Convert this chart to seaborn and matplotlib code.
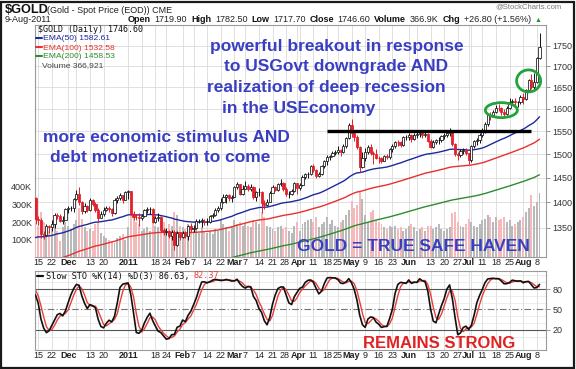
import numpy as np
import pandas as pd
import matplotlib
matplotlib.use("Agg")
import matplotlib.pyplot as plt
import matplotlib.transforms as mtransforms
import seaborn as sns
from matplotlib.patches import Ellipse, Rectangle
from matplotlib.ticker import NullLocator

sns.set_theme(style="white")
plt.rcParams['font.family'] = ['Liberation Sans', 'DejaVu Sans']

# ---------------- data ----------------
start_date, end_date = '2010-11-12', '2011-08-09'
holidays = ['2010-11-25', '2010-12-24', '2011-01-17', '2011-02-21',
            '2011-04-22', '2011-05-30', '2011-07-04']

# history before the first visible bar (only feeds the stochastic)
hist_close = [1332, 1345, 1326, 1327, 1339, 1340, 1325, 1346, 1357, 1352, 1357, 1349, 1393, 1397, 1411, 1395, 1404, 1408]
hist_high = [1373, 1348, 1349, 1333, 1348, 1345, 1343, 1348, 1362, 1366, 1360, 1360, 1395, 1398, 1412, 1424, 1406, 1410]
hist_low = [1328, 1330, 1322, 1316, 1325, 1328, 1318, 1322, 1343, 1350, 1349, 1335, 1349, 1374, 1393, 1390, 1382, 1395]

close = [1368,
         1366, 1338, 1336, 1353, 1352, 1358, 1376, 1374, 1363,
         1366, 1386, 1388, 1389, 1406, 1416, 1400, 1383, 1393, 1385,
         1404, 1397, 1385, 1370, 1378, 1384, 1388, 1387, 1379,
         1405, 1409, 1414, 1405, 1421, 1422, 1378, 1372, 1371, 1369,
         1374, 1384, 1386, 1387, 1361, 1369, 1371, 1346, 1343,
         1345, 1334, 1342, 1318, 1340, 1332, 1340, 1334, 1353, 1348,
         1350, 1363, 1364, 1364, 1361, 1362, 1374, 1375, 1384, 1388,
         1401, 1410, 1414, 1408, 1410, 1432, 1437, 1416, 1428,
         1434, 1428, 1432, 1410, 1420, 1421, 1398, 1395, 1400, 1419,
         1432, 1426, 1437, 1439, 1428, 1416, 1416, 1423, 1439, 1429,
         1436, 1451, 1457, 1458, 1474, 1466, 1453, 1458, 1474, 1486,
         1494, 1495, 1503, 1504, 1509, 1505, 1517, 1535, 1563,
         1545, 1536, 1515, 1473, 1491, 1504, 1515, 1502, 1501, 1492,
         1491, 1485, 1496, 1493, 1510, 1517, 1527, 1526, 1519, 1536,
         1536, 1541, 1532, 1542, 1544, 1546, 1541, 1543, 1529,
         1516, 1526, 1530, 1530, 1539, 1541, 1546, 1553, 1521, 1500,
         1498, 1506, 1509, 1502, 1487, 1517, 1529, 1530, 1542,
         1550, 1566, 1587, 1585, 1593, 1602, 1601, 1592, 1588, 1602,
         1615, 1617, 1615, 1615, 1628, 1623, 1643, 1666, 1650, 1663,
         1719.8, 1746.6]
high = [1411,
        1374, 1370, 1345, 1358, 1356, 1365, 1380, 1380, 1378,
        1374, 1389, 1392, 1393, 1409, 1425, 1431, 1402, 1398, 1395,
        1408, 1406, 1400, 1388, 1382, 1391, 1392, 1392, 1389,
        1408, 1413, 1418, 1414, 1424, 1425, 1424, 1383, 1378, 1380,
        1377, 1387, 1391, 1390, 1388, 1374, 1379, 1372, 1350,
        1350, 1346, 1346, 1346, 1344, 1342, 1345, 1344, 1356, 1360,
        1355, 1368, 1368, 1369, 1367, 1369, 1376, 1379, 1389, 1392,
        1408, 1416, 1416, 1417, 1415, 1434, 1441, 1438, 1436,
        1444, 1437, 1437, 1433, 1424, 1430, 1424, 1405, 1406, 1422,
        1436, 1434, 1440, 1447, 1442, 1432, 1422, 1427, 1441, 1440,
        1440, 1455, 1461, 1463, 1477, 1478, 1469, 1462, 1477, 1488,
        1497, 1498, 1506, 1508, 1518, 1511, 1522, 1538, 1568,
        1577, 1550, 1541, 1518, 1504, 1512, 1519, 1521, 1506, 1510,
        1496, 1494, 1498, 1500, 1513, 1522, 1529, 1530, 1529, 1539,
        1542, 1545, 1543, 1545, 1548, 1549, 1547, 1549, 1546,
        1532, 1530, 1532, 1536, 1542, 1545, 1550, 1557, 1553, 1523,
        1505, 1510, 1513, 1513, 1503, 1520, 1531, 1535, 1545,
        1556, 1570, 1590, 1593, 1597, 1608, 1610, 1604, 1600, 1606,
        1624, 1622, 1624, 1619, 1632, 1636, 1647, 1669, 1681, 1683,
        1722, 1782.5]
low = [1357,
       1356, 1330, 1329, 1336, 1340, 1345, 1350, 1367, 1361,
       1358, 1366, 1380, 1382, 1381, 1405, 1395, 1377, 1380, 1381,
       1383, 1393, 1381, 1363, 1369, 1373, 1382, 1381, 1374,
       1377, 1399, 1405, 1398, 1404, 1407, 1375, 1365, 1365, 1354,
       1365, 1371, 1379, 1378, 1359, 1360, 1364, 1343, 1337,
       1337, 1330, 1327, 1309, 1316, 1326, 1330, 1331, 1327, 1343,
       1342, 1348, 1359, 1352, 1355, 1356, 1359, 1370, 1373, 1381,
       1384, 1399, 1399, 1403, 1400, 1410, 1428, 1414, 1414,
       1427, 1424, 1424, 1406, 1403, 1413, 1380, 1387, 1392, 1400,
       1418, 1422, 1424, 1433, 1424, 1412, 1408, 1414, 1421, 1417,
       1425, 1433, 1448, 1449, 1456, 1462, 1450, 1452, 1456, 1470,
       1476, 1488, 1493, 1499, 1501, 1495, 1503, 1514, 1532,
       1537, 1528, 1510, 1462, 1470, 1486, 1500, 1497, 1478, 1489,
       1480, 1480, 1485, 1489, 1489, 1505, 1514, 1518, 1515, 1517,
       1530, 1530, 1527, 1530, 1535, 1537, 1535, 1536, 1526,
       1513, 1514, 1521, 1522, 1526, 1533, 1538, 1540, 1518, 1496,
       1488, 1493, 1500, 1497, 1478, 1483, 1513, 1520, 1524,
       1538, 1546, 1562, 1575, 1581, 1590, 1596, 1585, 1584, 1586,
       1600, 1610, 1609, 1604, 1610, 1612, 1620, 1641, 1645, 1643,
       1660, 1717.7]
last_open = 1719.90
volume_k = [330,
            180, 260, 200, 170, 150, 160, 190, 150, 90,
            170, 200, 180, 160, 190, 210, 280, 220, 170, 150,
            160, 150, 190, 200, 140, 120, 110, 100, 90,
            80, 110, 120, 130, 100, 170, 290, 250, 200, 190,
            150, 160, 170, 150, 230, 180, 170, 240, 200,
            160, 190, 180, 260, 240, 180, 170, 160, 190, 180,
            150, 160, 140, 170, 150, 140, 150, 130, 160, 150,
            210, 190, 170, 150, 180, 210, 190, 200, 180,
            190, 180, 170, 210, 200, 190, 260, 230, 180, 170,
            160, 150, 170, 180, 160, 170, 150, 140, 180, 200,
            150, 190, 200, 210, 220, 200, 230, 170, 190, 200,
            230, 190, 210, 180, 170, 200, 210, 240, 270,
            320, 280, 300, 380, 330, 240, 200, 260, 270, 210,
            200, 190, 170, 160, 180, 170, 180, 160, 170, 150,
            160, 180, 190, 170, 150, 160, 170, 150, 180,
            180, 160, 170, 190, 160, 150, 160, 170, 250, 260,
            200, 180, 170, 190, 220, 200, 180, 170, 190,
            210, 220, 240, 230, 200, 230, 210, 220, 230, 200,
            210, 180, 190, 200, 210, 230, 260, 280, 355, 290,
            315, 367]

ema_periods = [50, 100, 200]
ema_seeds = [1330, 1278, 1207]
ema_colors = ['#1c2a9c', '#e8302c', '#2e8b2e']
ema_labels = ['EMA(50) 1582.61', 'EMA(100) 1532.58', 'EMA(200) 1458.53']

price_ticks = [1350, 1400, 1450, 1500, 1550, 1600, 1650, 1700, 1750]
vol_ticks = [100000, 200000, 300000, 400000]
vol_tick_labels = ['100K', '200K', '300K', '400K']
sto_ticks = [20, 50, 80]

tick_dates = ['2010-11-15', '2010-11-22', '2010-12-01', '2010-12-13', '2010-12-20',
              '2011-01-03', '2011-01-18', '2011-01-24', '2011-02-01', '2011-02-07',
              '2011-02-14', '2011-02-22', '2011-03-01', '2011-03-07', '2011-03-14',
              '2011-03-21', '2011-03-28', '2011-04-01', '2011-04-11', '2011-04-18',
              '2011-04-25', '2011-05-02', '2011-05-09', '2011-05-16', '2011-05-23',
              '2011-06-01', '2011-06-13', '2011-06-20', '2011-06-27', '2011-07-01',
              '2011-07-11', '2011-07-18', '2011-07-25', '2011-08-01', '2011-08-08']
tick_labels = ['15', '22', 'Dec', '13', '20', '2011', '18', '24', 'Feb', '7', '14', '22',
               'Mar', '7', '14', '21', '28', 'Apr', '11', '18', '25', 'May', '9', '16', '23',
               'Jun', '13', '20', '27', 'Jul', '11', '18', '25', 'Aug', '8']
label_nudge_px = {16: -1.8, 17: 1.8}
extra_grid_dates = ['2010-12-06', '2011-01-10', '2011-04-04', '2011-06-06', '2011-07-05']

resistance_level = 1550
resistance_span = ['2011-04-18', '2011-08-04']
circles = [('2011-07-20', 1597, 32, 15), ('2011-08-03', 1665, 24, 22)]

# ---------------- derived ----------------
hol = set(holidays)
dates = [d for d in pd.bdate_range(start_date, end_date) if d.strftime('%Y-%m-%d') not in hol]
n = len(dates)
assert n == len(close) == len(high) == len(low) == len(volume_k)
pos = {d.strftime('%Y-%m-%d'): i for i, d in enumerate(dates)}
idx = np.arange(n)

c = np.array(close, float)
prev = np.concatenate([[hist_close[-1]], c[:-1]])
o = prev.copy()
o[-1] = last_open
h = np.maximum(np.array(high, float), np.maximum(o, c))
l = np.minimum(np.array(low, float), np.minimum(o, c))
down = c < prev

RED = '#e0202a'
W, H = 576, 369
def fx(px):
    return px / W
def fy(py):
    return 1 - py / H

def ema(vals, period, seed):
    k = 2.0 / (period + 1)
    e = seed
    out = []
    for v in vals:
        e = e + k * (v - e)
        out.append(e)
    return np.array(out)

allc = pd.Series(hist_close + list(c))
allh = pd.Series(hist_high + list(h))
alll = pd.Series(hist_low + list(l))
hh = allh.rolling(14).max()
ll = alll.rolling(14).min()
fast_k = 100 * (allc - ll) / (hh - ll)
slow_k = fast_k.rolling(3).mean()
slow_d = slow_k.rolling(3).mean()
slow_k = slow_k.values[-n:]
slow_d = slow_d.values[-n:]

# ---------------- figure ----------------
fig = plt.figure(figsize=(5.76, 3.69), dpi=100)
fig.patch.set_facecolor('white')

L_PX, R_PX = 35, 546
TOP_PX, BOT_PX = 25, 257
S_TOP, S_BOT = 271, 350
ppd = (539.5 - 35.5) / (n - 1)
xlim = (-(35.5 - L_PX) / ppd, (R_PX - 35.5) / ppd)
rect_top = [fx(L_PX), fy(BOT_PX), (R_PX - L_PX) / W, (BOT_PX - TOP_PX) / H]
rect_sto = [fx(L_PX), fy(S_BOT), (R_PX - L_PX) / W, (S_BOT - S_TOP) / H]

p_hi = 1750 * np.exp((46 - TOP_PX) / 701.0)
p_lo = 1750 * np.exp(-(BOT_PX - 46) / 701.0)

ax_bg = fig.add_axes(rect_top, zorder=1)
ax_vol = fig.add_axes(rect_top, zorder=2)
ax_p = fig.add_axes(rect_top, zorder=3)
ax_s = fig.add_axes(rect_sto, zorder=1)

for a in (ax_bg, ax_p):
    a.set_yscale('log')
    a.set_ylim(p_lo, p_hi)
for a in (ax_bg, ax_vol, ax_p, ax_s):
    a.set_xlim(*xlim)
ax_vol.patch.set_alpha(0)
ax_p.patch.set_alpha(0)
for a in (ax_vol, ax_p):
    for sp in a.spines.values():
        sp.set_visible(False)
    a.set_xticks([])
    a.set_yticks([])
    a.yaxis.set_minor_locator(NullLocator())

tick_pos = [pos[d] for d in tick_dates]
grid_pos = sorted(tick_pos + [pos[d] for d in extra_grid_dates])
GRID = '#dadada'

# background panel: grid + right price axis
for g in grid_pos:
    ax_bg.axvline(g, color=GRID, lw=0.6, zorder=0)
for p in price_ticks:
    ax_bg.axhline(p, color=GRID, lw=0.6, zorder=0)
ax_bg.set_xticks([])
ax_bg.yaxis.tick_right()
ax_bg.set_yticks(price_ticks)
ax_bg.set_yticklabels([str(p) for p in price_ticks])
ax_bg.yaxis.set_minor_locator(NullLocator())
ax_bg.tick_params(axis='y', which='major', length=3, width=0.6, color='#888888',
                  labelsize=6.5, labelcolor='#333333', pad=1.5, right=True, left=False)

def date_axis(a, panel_h_px):
    trans = mtransforms.blended_transform_factory(a.transData, a.transAxes)
    for k, (p, lab) in enumerate(zip(tick_pos, tick_labels)):
        xoff = label_nudge_px.get(k, 0.0) / ppd
        bold = (not lab.isdigit()) or lab == '2011'
        a.text(p + xoff, -1.2 / panel_h_px, lab, transform=trans, ha='center', va='top',
               fontsize=6.5, color='#222222', fontweight='bold' if bold else 'normal')

date_axis(ax_bg, BOT_PX - TOP_PX)
for a in (ax_bg, ax_s):
    for sp in a.spines.values():
        sp.set_color('#9a9a9a')
        sp.set_linewidth(0.8)

# volume
vol = np.array(volume_k) * 1000
vol_top = (BOT_PX - TOP_PX) / 17.5 * 100000
ax_vol.set_ylim(0, vol_top)
vcols = np.where(down, '#f3b9bb', '#b9b9b9')
ax_vol.bar(idx, vol, width=0.72, color=vcols, linewidth=0, zorder=1)
ax_vol.set_yticks(vol_ticks)
ax_vol.set_yticklabels(vol_tick_labels)
ax_vol.tick_params(axis='y', length=0, pad=2, labelsize=6.5, labelcolor='#333333', left=True, labelleft=True)

# EMAs
for per, seed, col in zip(ema_periods, ema_seeds, ema_colors):
    sns.lineplot(x=idx, y=ema(c, per, seed), ax=ax_p, color=col, lw=1.0, zorder=2, legend=False)
ax_p.set_xlim(*xlim)
ax_p.set_ylim(p_lo, p_hi)
ax_p.set_xlabel('')
ax_p.set_ylabel('')
ax_p.set_xticks([])
ax_p.set_yticks([])
ax_p.yaxis.set_minor_locator(NullLocator())

# candles
ccol = np.where(down, RED, '#111111')
face = np.where(c >= o, 'white', ccol)
ax_p.vlines(idx, l, h, colors=ccol, lw=0.7, zorder=3)
ax_p.bar(idx, np.maximum(np.abs(c - o), 0.6), bottom=np.minimum(o, c), width=0.8,
         color=face, edgecolor=ccol, linewidth=0.55, zorder=4)

# resistance line
ax_p.hlines(resistance_level, pos[resistance_span[0]], pos[resistance_span[1]],
            colors='black', lw=2.4, zorder=5)

# ellipses
for d, pr, wpx, hpx in circles:
    cx, cy = ax_p.transAxes.inverted().transform(ax_p.transData.transform((pos[d], pr)))
    e = Ellipse((cx, cy), wpx / (R_PX - L_PX), hpx / (BOT_PX - TOP_PX), transform=ax_p.transAxes,
                fill=False, ec='#1fa33a', lw=2.0, zorder=6)
    ax_p.add_patch(e)

# stochastic panel
ax_s.set_ylim(20 - (S_BOT - 330) / 0.6833, 80 + (289 - S_TOP) / 0.6833)
for g in grid_pos:
    ax_s.axvline(g, color=GRID, lw=0.6, zorder=0)
for yv in [10, 30, 40, 60, 70, 90, 100]:
    ax_s.axhline(yv, color='#e6e6e6', lw=0.5, zorder=0)
ax_s.axhline(80, color='#555555', lw=0.8, zorder=1)
ax_s.axhline(20, color='#555555', lw=0.8, zorder=1)
ax_s.axhline(50, color='#777777', lw=0.8, ls=(0, (6, 2, 1, 2)), zorder=1)
sns.lineplot(x=idx, y=slow_d, ax=ax_s, color='#e8403c', lw=1.0, zorder=2, legend=False)
sns.lineplot(x=idx, y=slow_k, ax=ax_s, color='#111111', lw=1.2, zorder=3, legend=False)
ax_s.set_xlim(*xlim)
ax_s.set_xlabel('')
ax_s.set_ylabel('')
ax_s.set_xticks([])
ax_s.yaxis.tick_right()
ax_s.set_yticks(sto_ticks)
ax_s.set_yticklabels([str(t) for t in sto_ticks])
ax_s.tick_params(axis='y', length=3, width=0.6, color='#888888', labelsize=6.5,
                 labelcolor='#333333', pad=1.5, right=True, left=False)
date_axis(ax_s, S_BOT - S_TOP)

# ---------------- texts ----------------
renderer = fig.canvas.get_renderer()

def seq(x_px, y_px, pieces, gap=2.5):
    x = x_px
    for s, kw in pieces:
        t = fig.text(fx(x), fy(y_px), s, ha='left', va='baseline', **kw)
        bb = t.get_window_extent(renderer)
        x += bb.width + gap
    return x

fig.text(fx(5), fy(13), '$GOLD', fontsize=9.2, fontweight='bold', color='#111111', va='baseline')
fig.text(fx(47), fy(13), '(Gold - Spot Price (EOD)) CME', fontsize=6.5, color='#222222', va='baseline')
fig.text(fx(5), fy(22.5), '9-Aug-2011', fontsize=6.5, color='#222222', va='baseline')
fig.text(fx(562), fy(8), '@StockCharts.com', fontsize=5.5, color='#777777', va='baseline', ha='right')
B = dict(fontsize=6.5, fontweight='bold', color='#111111')
N = dict(fontsize=6.5, color='#222222')
seq(128, 22.5, [('Open', B), ('1719.90', N), ('High', B), ('1782.50', N), ('Low', B), ('1717.70', N),
                ('Close', B), ('1746.60', N), ('Volume', B), ('366.9K', N), ('Chg', B),
                ('+26.80 (+1.56%)', N), ('\u25b2', dict(fontsize=5, color='#1a9a2a'))], gap=3.8)

# legend in price panel
MONO = ['DejaVu Sans Mono']
fig.text(fx(38), fy(31.5), '$GOLD (Daily) 1746.60', fontsize=6.0, family=MONO, color='#111111', va='baseline')
for k, hb in enumerate([3, 5, 4]):
    fig.add_artist(Rectangle((fx(35.5 + k * 0.9), fy(31.5)), 0.6 / W, hb / H, color='#333333'))
for k, (lab, col) in enumerate(zip(ema_labels, ema_colors)):
    yb = 40.5 + k * 9.0
    fig.add_artist(plt.Line2D([fx(35.5), fx(42)], [fy(yb - 2.3), fy(yb - 2.3)], color=col, lw=1.5))
    fig.text(fx(43), fy(yb), lab, fontsize=6.1, color=col, va='baseline')
fig.text(fx(42), fy(67.5), 'Volume 366,921', fontsize=6.1, color='#444444', va='baseline')
for k, hb in enumerate([4, 6, 5]):
    fig.add_artist(Rectangle((fx(35.5 + k * 2.0), fy(67.5)), 1.4 / W, hb / H, color='#555555'))

# stochastic legend
fig.add_artist(plt.Line2D([fx(37), fx(43)], [fy(276), fy(276)], color='#111111', lw=1.6))
xe = seq(46, 278.5, [('Slow STO %K(14) %D(3) 86.63,', dict(fontsize=6.1, family=MONO, color='#111111'))], gap=4)
fig.text(fx(xe), fy(278.5), '82.37', fontsize=6.1, family=MONO, color='#e8403c', va='baseline')

# annotations
BLUE = '#3a3fc2'
AB = dict(fontsize=12.5, fontweight='bold', color=BLUE, va='baseline', family=['Liberation Sans'])
fig.text(fx(210), fy(51), 'powerful breakout in response', **AB)
fig.text(fx(224), fy(71.5), 'to USGovt downgrade AND', **AB)
fig.text(fx(207), fy(92), 'realization of deep recession', **AB)
fig.text(fx(222), fy(112.5), 'in the USEconomy', **AB)
fig.text(fx(43), fy(142), 'more economic stimulus AND', **AB)
fig.text(fx(50), fy(161.5), 'debt monetization to come', **AB)
fig.text(fx(297), fy(251), 'GOLD = TRUE SAFE HAVEN', **AB)
fig.text(fx(363), fy(348), 'REMAINS STRONG', fontsize=12, fontweight='bold', color='#e02222',
         va='baseline', family=['Liberation Sans'])

# outer frame
fig.add_artist(Rectangle((0.5 / W, 1.5 / H), (W - 3) / W, (H - 3) / H, transform=fig.transFigure,
                         fill=False, ec='#1a1a1a', lw=1.6))

fig.savefig('out.png', dpi=100, facecolor='white')
